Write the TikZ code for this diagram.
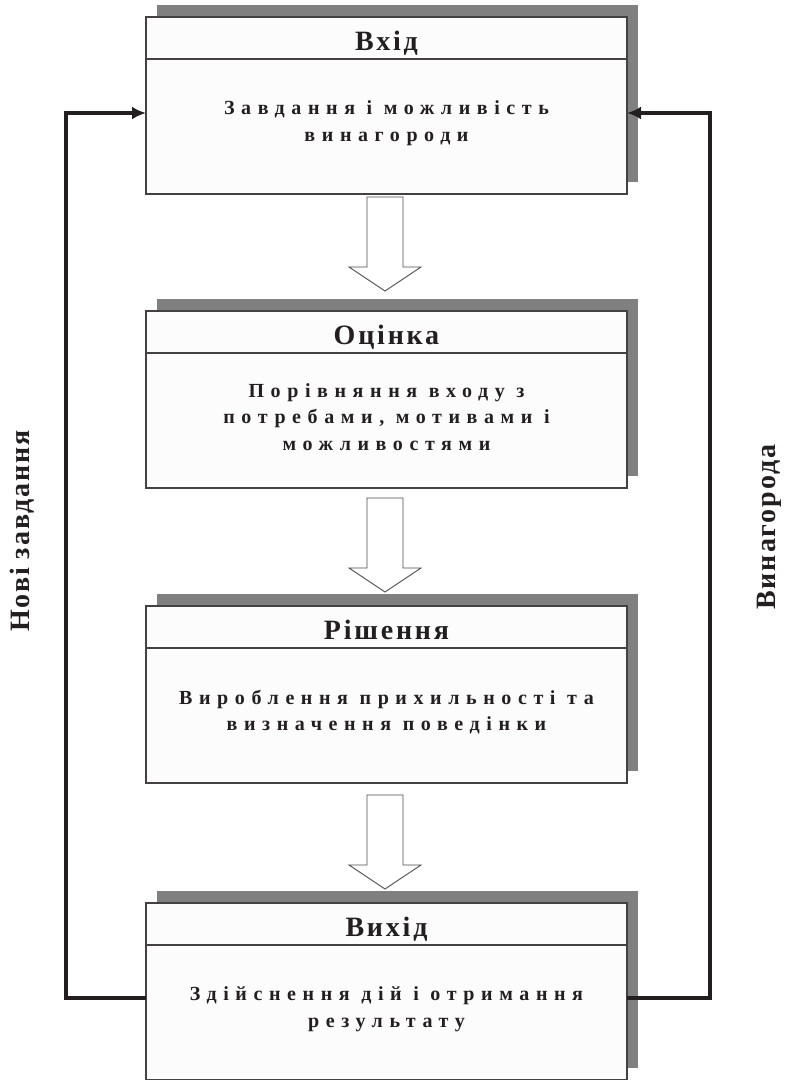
\documentclass[tikz,border=0pt]{standalone}
\usepackage{fontspec}
\setmainfont{Liberation Serif}
\newfontfamily\titlefont[LetterSpace=10]{Liberation Serif}
\newfontfamily\bodyfont[LetterSpace=33]{Liberation Serif}
\newfontfamily\sidefont[LetterSpace=7]{Liberation Serif}
\usetikzlibrary{arrows.meta,calc,shadows}
\definecolor{ink}{HTML}{231F20}
\definecolor{shade}{HTML}{808080}
\definecolor{paper}{HTML}{FCFCFC}

\begin{document}
\begin{tikzpicture}[x=1pt,y=-1pt,
  panel/.style={draw=ink!85, line width=1.2pt, fill=paper,
    minimum width=481pt, minimum height=177pt, inner sep=0pt, outer sep=0pt,
    drop shadow={shadow xshift=11pt, shadow yshift=12pt, fill=shade, opacity=1}},
  divider/.style={draw=ink!85, line width=1.2pt},
  heading/.style={anchor=base, text=ink, inner sep=0pt,
    font=\titlefont\bfseries\fontsize{28}{32}\selectfont},
  body/.style={align=center, text=ink, inner sep=0pt,
    font=\bodyfont\bfseries\fontsize{20}{26.5}\selectfont},
  sidelabel/.style={rotate=90, text=ink, inner sep=0pt,
    font=\sidefont\bfseries\fontsize{28}{32}\selectfont},
  hollow/.style={draw=ink!80, line width=0.9pt, fill=white, line join=miter},
  feedback/.style={draw=ink, line width=3.6pt, line join=miter,
    -{Latex[length=14pt,width=13pt]}}
]
\useasboundingbox (0,0) rectangle (789,1080);
\fill[white] (0,0) rectangle (789,1080);

% stage panels
\node[panel] (b1) at (386.5,105.5) {};
\node[panel] (b2) at (386.5,399.5) {};
\node[panel] (b3) at (386.5,694.5) {};
\node[panel] (b4) at (386.5,991.5) {};

% header separators
\foreach \b in {b1,b2,b3,b4}
  \draw[divider] ($(\b.north west)+(0,42)$) -- ($(\b.north east)+(0,42)$);

% headings
\node[heading] (t1) at ($(b1.north)+(0,33)$) {Вхід};
\node[heading] (t2) at ($(b2.north)+(0,33)$) {Оцінка};
\node[heading] (t3) at ($(b3.north)+(0,33)$) {Рішення};
\node[heading] (t4) at ($(b4.north)+(0,33)$) {Вихід};

% descriptions
\node[body] (d1) at ($(b1.north)+(0,106)$) {Завдання і можливість\\винагороди};
\node[body] (d2) at ($(b2.north)+(0,106)$) {Порівняння входу з\\потребами, мотивами і\\можливостями};
\node[body] (d3) at ($(b3.north)+(0,106)$) {Вироблення прихильності та\\визначення поведінки};
\node[body] (d4) at ($(b4.north)+(0,106)$) {Здійснення дій і отримання\\результату};

% hollow block arrows between stages
\draw[hollow] ($(b2.north)+(-1.5,-20)$) -- ++(-36,-24) -- ++(18,0) -- ++(0,-70)
  -- ++(36,0) -- ++(0,70) -- ++(18,0) -- cycle;
\draw[hollow] ($(b3.north)+(-1.5,-14)$) -- ++(-36,-24) -- ++(18,0) -- ++(0,-70)
  -- ++(36,0) -- ++(0,70) -- ++(18,0) -- cycle;
\draw[hollow] ($(b4.north)+(-1.5,-14)$) -- ++(-36,-24) -- ++(18,0) -- ++(0,-70)
  -- ++(36,0) -- ++(0,70) -- ++(18,0) -- cycle;

% feedback loops
\coordinate (outL) at ($(b4.north west)+(0,95)$);
\coordinate (inL)  at ($(b1.north west)+(0,96)$);
\coordinate (outR) at ($(b4.north east)+(0,95)$);
\coordinate (inR)  at ($(b1.north east)+(0,96)$);
\coordinate (railL) at (66,0);
\coordinate (railR) at (710,0);
\draw[feedback] (outL) -- (railL |- outL) -- (railL |- inL) -- (inL);
\draw[feedback] (outR) -- (railR |- outR) -- (railR |- inR) -- (inR);

% loop labels
\node[sidelabel] (nl) at (22,531) {Нові завдання};
\node[sidelabel] (nr) at (769,527) {Винагорода};
\end{tikzpicture}
\end{document}
